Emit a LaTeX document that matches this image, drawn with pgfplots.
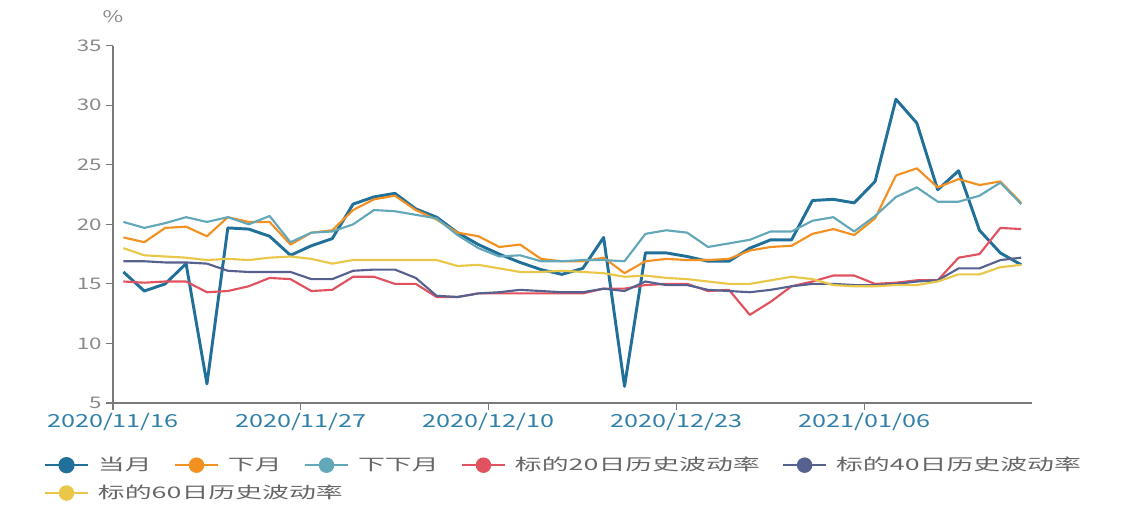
\documentclass[border=0pt]{standalone}
\usepackage{pgfplots}
\pgfplotsset{compat=1.18}
\usepackage{pgfplotstable}
\usepackage{fontspec}
\setmainfont[FakeStretch=1.4]{Noto Sans CJK SC}
\newfontfamily\legfont[FakeStretch=1.68]{Noto Sans CJK SC}
\definecolor{cA}{HTML}{21709A}
\definecolor{cB}{HTML}{F39022}
\definecolor{cC}{HTML}{63A8B8}
\definecolor{cD}{HTML}{E0525F}
\definecolor{cE}{HTML}{56618F}
\definecolor{cF}{HTML}{E9C748}
\definecolor{axgray}{HTML}{7A7A7A}
\definecolor{txgray}{HTML}{8A8A8A}
\definecolor{leggray}{HTML}{666666}
\definecolor{xlab}{HTML}{2F80A8}
\pgfplotstableread{
x a b c d e f
0.5 16.0 18.9 20.2 15.2 16.9 18.0
1.5 14.4 18.5 19.7 15.1 16.9 17.4
2.5 15.0 19.7 20.1 15.2 16.8 17.3
3.5 16.7 19.8 20.6 15.2 16.8 17.2
4.5 6.6 19.0 20.2 14.3 16.7 17.0
5.5 19.7 20.6 20.6 14.4 16.1 17.1
6.5 19.6 20.2 20.0 14.8 16.0 17.0
7.5 19.0 20.2 20.7 15.5 16.0 17.2
8.5 17.4 18.3 18.5 15.4 16.0 17.3
9.5 18.2 19.3 19.3 14.4 15.4 17.1
10.5 18.8 19.5 19.4 14.5 15.4 16.7
11.5 21.7 21.2 20.0 15.6 16.1 17.0
12.5 22.3 22.1 21.2 15.6 16.2 17.0
13.5 22.6 22.4 21.1 15.0 16.2 17.0
14.5 21.3 21.2 20.8 15.0 15.5 17.0
15.5 20.6 20.4 20.5 13.9 14.0 17.0
16.5 19.3 19.3 19.1 13.9 13.9 16.5
17.5 18.3 19.0 18.0 14.2 14.2 16.6
18.5 17.5 18.1 17.3 14.2 14.3 16.3
19.5 16.8 18.3 17.4 14.2 14.5 16.0
20.5 16.2 17.1 16.9 14.2 14.4 16.0
21.5 15.8 16.9 16.9 14.2 14.3 16.1
22.5 16.3 16.9 17.0 14.2 14.3 16.0
23.5 18.9 17.2 17.0 14.6 14.6 15.9
24.5 6.4 15.9 16.9 14.6 14.4 15.6
25.5 17.6 16.9 19.2 14.9 15.2 15.7
26.5 17.6 17.1 19.5 15.0 14.9 15.5
27.5 17.3 17.0 19.3 15.0 14.9 15.4
28.5 16.9 17.0 18.1 14.4 14.5 15.2
29.5 16.9 17.1 18.4 14.5 14.4 15.0
30.5 18.0 17.8 18.7 12.4 14.3 15.0
31.5 18.7 18.1 19.4 13.5 14.5 15.3
32.5 18.7 18.2 19.4 14.8 14.8 15.6
33.5 22.0 19.2 20.3 15.2 15.0 15.4
34.5 22.1 19.6 20.6 15.7 15.0 14.9
35.5 21.8 19.1 19.4 15.7 14.9 14.8
36.5 23.6 20.5 20.7 15.0 14.9 14.8
37.5 30.5 24.1 22.3 15.1 15.0 14.9
38.5 28.5 24.7 23.1 15.3 15.2 14.9
39.5 22.9 23.1 21.9 15.3 15.3 15.2
40.5 24.5 23.8 21.9 17.2 16.3 15.8
41.5 19.5 23.3 22.4 17.5 16.3 15.8
42.5 17.6 23.6 23.5 19.7 17.0 16.4
43.5 16.6 21.8 21.7 19.6 17.2 16.6
}\datatable
\begin{document}
\begin{tikzpicture}
\pgfplotsset{
  legstyle/.style={
    legend style={draw=none, fill=none, inner sep=0pt,
      font=\legfont\fontsize{12}{14}\selectfont, text=leggray,
      /tikz/every even column/.append style={column sep=15pt},
      /tikz/every odd column/.append style={column sep=5pt}},
    legend cell align=left,
    legend image code/.code={
      \draw[##1, line width=1.2pt] (0pt,0pt) -- (32pt,0pt);
      \fill[##1] (16pt,0pt) circle (5pt);
    }
  }
}
\begin{axis}[
  scale only axis, width=689pt, height=268pt,
  xmin=0, xmax=44, ymin=5, ymax=35,
  axis x line*=bottom, axis y line*=left,
  axis line style={axgray, line width=0.9pt},
  xtick={0,9,18,27,36},
  xticklabels={2020/11/16,2020/11/27,2020/12/10,2020/12/23,2021/01/06},
  ytick={5,10,...,35},
  tick align=outside, tick style={axgray, line width=0.8pt},
  major tick length=5pt,
  /pgf/number format/assume math mode=true,
  xticklabel style={font=\fontsize{13.5}{15}\selectfont, text=xlab, yshift=1pt},
  yticklabel style={font=\fontsize{12}{14}\selectfont, text=txgray},
  ylabel={\%}, ylabel style={rotate=-90, at={(rel axis cs:0,1)}, anchor=south, yshift=14pt, font=\fontsize{12}{14}\selectfont, text=txgray},
  legstyle,
  legend columns=5,
  legend style={at={(-0.075,-0.174)}, anchor=west},
  line join=round,
]
\addplot[cA, line width=2.2pt] table[x=x, y=a] {\datatable};
\addlegendentry{当月}
\addplot[cB, line width=1.6pt] table[x=x, y=b] {\datatable};
\addlegendentry{下月}
\addplot[cC, line width=1.6pt] table[x=x, y=c] {\datatable};
\addlegendentry{下下月}
\addplot[cD, line width=1.6pt] table[x=x, y=d] {\datatable};
\addlegendentry{标的20日历史波动率}
\addplot[cE, line width=1.6pt] table[x=x, y=e] {\datatable};
\addlegendentry{标的40日历史波动率}
\addplot[cF, line width=1.6pt, forget plot] table[x=x, y=f] {\datatable};
\end{axis}
\begin{axis}[
  scale only axis, width=689pt, height=268pt,
  xmin=0, xmax=44, ymin=5, ymax=35, hide axis,
  legstyle,
  legend style={at={(-0.075,-0.252)}, anchor=west},
]
\addlegendimage{cF, line width=1.6pt}
\addlegendentry{标的60日历史波动率}
\end{axis}
\path[use as bounding box] (-84.75pt,-79.5pt) rectangle (757.5pt,302.25pt);
\end{tikzpicture}
\end{document}
